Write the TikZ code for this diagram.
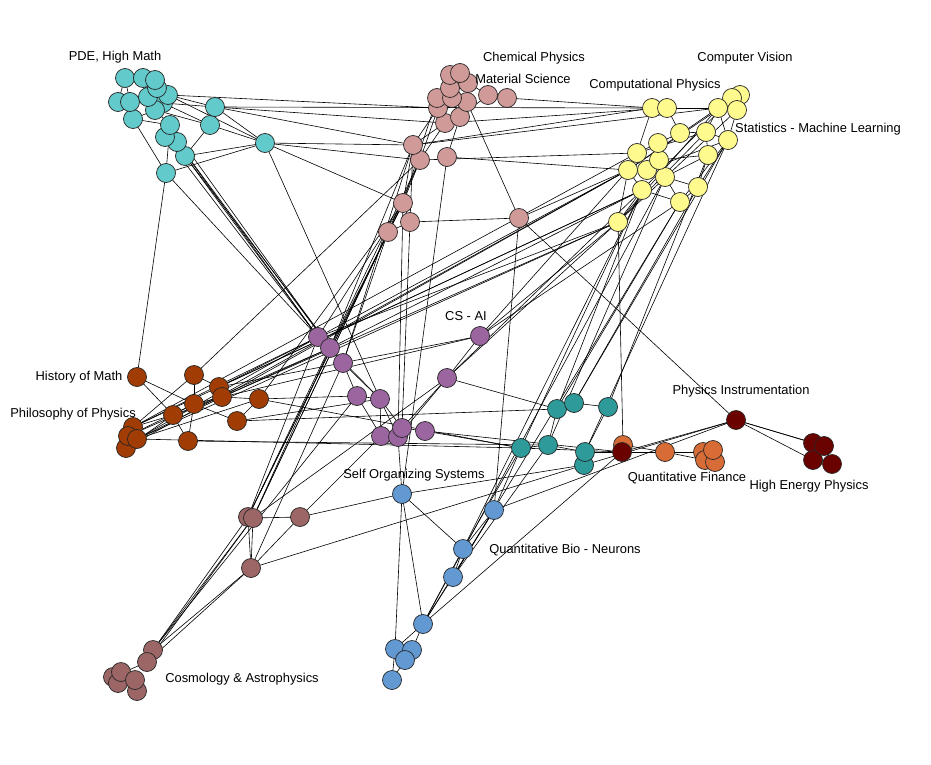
\documentclass[tikz,border=0pt]{standalone}
\usepackage{fontspec}
\setmainfont{Liberation Sans}
\usepackage{tikz}
\usepackage{xcolor}
\usetikzlibrary{backgrounds}
\definecolor{mathcyan}{HTML}{62CACA}
\definecolor{chempink}{HTML}{D09A98}
\definecolor{visionyellow}{HTML}{FFFA8E}
\definecolor{aipurple}{HTML}{9B66A0}
\definecolor{histbrown}{HTML}{A13C04}
\definecolor{nonlinteal}{HTML}{2E9A9A}
\definecolor{finorange}{HTML}{D86C36}
\definecolor{hepred}{HTML}{6A0200}
\definecolor{cosmomauve}{HTML}{9C6666}
\definecolor{bioblue}{HTML}{6299D2}
\tikzset{
    paper-node/.style = {circle, draw=black!85, line width=0.7pt, inner sep=0pt, minimum size=19pt},
    cite-edge/.style = {draw=black, line width=0.6pt},
    field-label/.style = {font=\fontsize{12.9}{15}\selectfont, inner sep=0pt},
}

\begin{document}
\begin{tikzpicture}[x=1pt, y=-1pt]
\useasboundingbox (0,0) rectangle (931,765);

% PDE, High Math
\foreach \n/\x/\y in {m19/166/173, m17/185/156, m16/177/142, m15/165/137, m14/170/125, m18/265/143,
    m13/210/125, m12/215/107, m10/133/119, m11/163/103, m9/155/110, m6/118/102, m7/130/102,
    m8/148/97, m5/168/95, m4/157/88, m1/125/78, m2/143/78, m3/155/80}
    \node[paper-node, fill=mathcyan] (\n) at (\x,\y) {};

% Chemical Physics, Material Science
\foreach \n/\x/\y in {c19/519/218, c18/388/232, c17/410/222, c16/403/203, c14/420/160, c13/413/145,
    c15/447/157, c12/507/98, c11/488/95, c9/445/123, c8/438/108, c10/460/117, c5/437/98,
    c7/467/102, c6/452/98, c4/450/88, c3/468/83, c1/450/75, c2/460/73}
    \node[paper-node, fill=chempink] (\n) at (\x,\y) {};

% Computer Vision, Computational Physics, Statistics
\foreach \n/\x/\y in {y20/618/222, y19/680/202, y17/642/190, y18/698/187, y16/665/177, y14/628/170,
    y15/647/170, y12/659/160, y11/637/153, y13/708/155, y10/658/143, y9/728/140, y7/680/133,
    y8/706/132, y1/652/108, y2/667/108, y5/740/95, y4/732/98, y6/737/110, y3/718/108}
    \node[paper-node, fill=visionyellow] (\n) at (\x,\y) {};

% CS - AI
\foreach \n/\x/\y in {a11/480/336, a10/447/378, a1/318/337, a2/330/348, a3/343/363, a4/357/396,
    a5/380/399, a9/425/431, a6/381/436, a7/398/437, a8/402/428}
    \node[paper-node, fill=aipurple] (\n) at (\x,\y) {};

% History of Math, Philosophy of Physics
\foreach \n/\x/\y in {h1/137/377, h2/194/375, h3/219/387, h4/222/397, h5/259/399, h6/194/404,
    h7/173/415, h8/237/421, h9/188/441, h10/133/427, h13/126/448, h11/128/436, h12/137/439}
    \node[paper-node, fill=histbrown] (\n) at (\x,\y) {};

% nonlinear cluster
\foreach \n/\x/\y in {t1/557/409, t2/574/403, t3/608/407, t4/521/448, t5/548/445, t7/584/465, t6/585/452}
    \node[paper-node, fill=nonlinteal] (\n) at (\x,\y) {};

% Quantitative Finance
\foreach \n/\x/\y in {f1/623/445, f2/665/452, f3/703/452, f6/705/460, f5/715/462, f4/713/450}
    \node[paper-node, fill=finorange] (\n) at (\x,\y) {};

% Physics Instrumentation, High Energy Physics
\foreach \n/\x/\y in {e1/622/452, e2/736/420, e3/813/443, e5/813/460, e6/832/464, e4/824/446}
    \node[paper-node, fill=hepred] (\n) at (\x,\y) {};

% Cosmology & Astrophysics
\foreach \n/\x/\y in {k1/248/517, k2/253/518, k3/300/517, k4/251/568, k5/153/650, k6/147/662,
    k7/113/677, k9/118/683, k8/121/672, k11/137/691, k10/135/680}
    \node[paper-node, fill=cosmomauve] (\n) at (\x,\y) {};

% Self Organizing Systems, Quantitative Bio
\foreach \n/\x/\y in {b1/402/494, b2/494/510, b3/463/549, b4/453/577, b5/423/624, b6/395/649,
    b7/412/650, b8/405/660, b9/392/680}
    \node[paper-node, fill=bioblue] (\n) at (\x,\y) {};

% labels
\node[field-label] (l-pde) at (115,57) {PDE, High Math};
\node[field-label] (l-chem) at (534,58) {Chemical Physics};
\node[field-label] (l-mat) at (523,79) {Material Science};
\node[field-label] (l-cv) at (745,58) {Computer Vision};
\node[field-label] (l-comp) at (655,85) {Computational Physics};
\node[field-label, anchor=west] (l-stat) at (735,129) {Statistics - Machine Learning};
\node[field-label] (l-ai) at (466,316) {CS - AI};
\node[field-label] (l-hist) at (79,377) {History of Math};
\node[field-label] (l-phil) at (73,414) {Philosophy of Physics};
\node[field-label] (l-inst) at (741,391) {Physics Instrumentation};
\node[field-label] (l-fin) at (687,478) {Quantitative Finance};
\node[field-label] (l-hep) at (809,486) {High Energy Physics};
\node[field-label] (l-self) at (414,475) {Self Organizing Systems};
\node[field-label] (l-bio) at (565,550) {Quantitative Bio - Neurons};
\node[field-label] (l-cosmo) at (242,679) {Cosmology \& Astrophysics};

\begin{scope}[on background layer]
% inside the clusters
\foreach \u/\v in {m1/m2, m1/m6, m1/m7, m2/m3, m2/m8, m3/m4, m3/m5, m4/m8, m5/m11, m6/m7, m7/m8,
    m7/m10, m8/m9, m9/m11, m9/m10, m10/m14, m9/m14, m11/m12, m5/m12, m11/m13, m9/m13, m14/m15,
    m15/m16, m16/m17, m13/m17, m12/m18, m13/m18, m5/m18, m10/m19, m14/m19, m19/m18, m17/m18, m12/m13,
    c1/c2, c2/c3, c1/c4, c4/c5, c4/c6, c3/c7, c6/c7, c5/c8, c8/c9, c6/c10, c7/c10, c3/c11, c11/c12,
    c10/c11, c9/c13, c8/c13, c9/c14, c10/c15, c13/c14, c13/c16, c14/c16, c16/c17, c17/c18, c16/c18,
    c13/c17, c14/c18, c7/c19, c17/c19, c8/c14, c5/c16,
    y1/y2, y2/y3, y3/y4, y4/y5, y5/y6, y3/y6, y3/y9, y6/y9, y2/y7, y7/y8, y8/y3, y8/y9, y7/y10,
    y10/y11, y10/y12, y11/y14, y12/y15, y14/y15, y15/y16, y12/y13, y13/y8, y13/y18, y16/y18,
    y17/y14, y17/y19, y19/y18, y16/y19, y17/y20, y20/y14, y1/y11, y9/y18, y13/y16, y11/y8,
    y14/y3, y20/y3, y20/y8, y17/y4, y15/y9, y20/y6, y14/y5, y19/y9,
    a1/a2, a2/a3, a3/a4, a3/a5, a4/a5, a5/a6, a5/a8, a5/a7, a6/a7, a7/a8, a8/a9, a4/a6, a10/a11,
    a10/a8, a10/a7, a2/a5, a1/a3,
    h1/h7, h1/h6, h2/h6, h6/h7, h6/h9, h7/h9, h2/h3, h3/h4, h4/h5, h4/h6, h5/h8, h10/h11, h11/h12,
    h12/h13, h10/h2, h12/h4, h11/h6, h13/h7, h10/h7, h7/h4, h12/h5, h8/h6,
    t1/t2, t2/t3, t4/t5, t5/t6, t6/t7, t3/t6, t1/t5,
    f1/f2, f2/f3, f3/f4, f4/f5, f3/f6, f2/f6, e1/f2, e1/e2, e2/e3, e2/e4, e2/e5, e3/e4, e4/e5,
    e5/e6, e4/e6, e1/f3,
    k1/k2, k2/k3, k2/k4, k1/k4, k3/k4, k5/k6, k6/k7, k7/k8, k8/k9, k9/k10, k10/k11, k8/k10,
    k4/k5, k4/k6, k1/k5, k2/k5, k2/k6,
    b1/b3, b1/b5, b1/b6, b2/b3, b3/b4, b4/b5, b5/b6, b5/b7, b6/b7, b7/b8, b6/b8, b8/b9, b6/b9,
    b3/b5, b2/b5, b2/b4}
    \draw[cite-edge] (\u.center) -- (\v.center);
% between the clusters
\foreach \u/\v in {m16/a1, m17/a1, m15/a1, m14/a2, m16/a2, m17/a3, m19/h1, m19/a1, m18/a5,
    m18/c13, m18/c14, m18/c16, m12/c13, m12/y1, m12/c9, m5/c8,
    c14/h2, c13/a2, c16/a2, c16/a1, c18/a3, c13/a3, c16/k1, c18/k2, c14/k1, c17/a8, c16/a7,
    c16/h5, c15/b1, c15/y14, c12/y1, c19/b2, c19/e2, c19/y14, c9/y2, c13/y3, c13/y1, c14/y11,
    y20/h4, y14/h4, y17/h3, y20/a1, y14/a1, y17/a2, y20/a11, y14/a11, y17/a10, y20/a10, y19/a11,
    y17/t4, y16/t5, y19/t1, y18/t2, y9/t6, y17/b3, y19/b4, y16/b5, y20/f1, y11/h10, y13/t3,
    t4/b2, t4/b3, t5/b4, t1/y17, t2/y9, a10/t1, a9/t4, h12/t4, h9/t5, a9/e1, t4/e1, t6/e1, t7/e2,
    h5/a4, h3/a1, h4/a2, h8/a5, h12/a1, h10/a1, h11/a2, h12/y20, h13/y14, h10/y17, h5/t4,
    a11/h3, a11/h4, k3/b1, k4/t7, b1/t7, k3/a6, k1/a1, k2/a2, k2/c18, k1/c16, k4/a3, k2/a10,
    k5/a4, b5/e1, b1/a7, b2/e2, h8/t1}
    \draw[cite-edge] (\u.center) -- (\v.center);
\end{scope}
\end{tikzpicture}
\end{document}
